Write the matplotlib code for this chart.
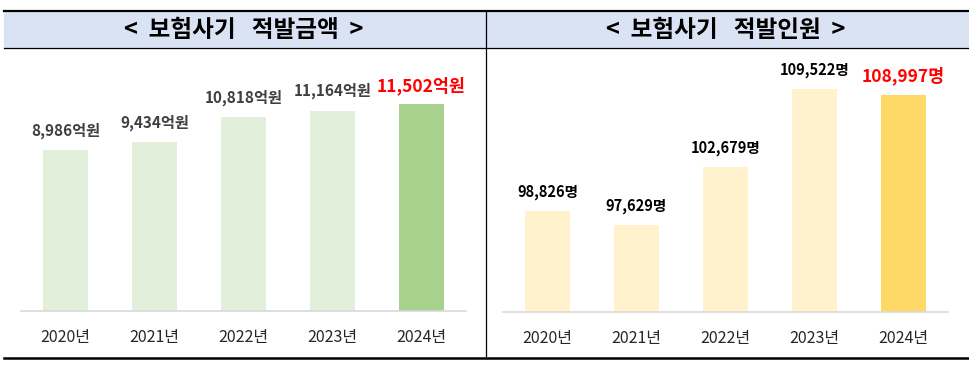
import matplotlib
matplotlib.use("Agg")
import matplotlib.pyplot as plt
from matplotlib.lines import Line2D
from matplotlib.patches import Rectangle

plt.rcParams['font.family'] = ['Noto Sans CJK KR', 'DejaVu Sans']

years = ["2020년", "2021년", "2022년", "2023년", "2024년"]
amount = [8986, 9434, 10818, 11164, 11502]      # 억원
people = [98826, 97629, 102679, 109522, 108997]  # 명

W, H = 970, 367
fig = plt.figure(figsize=(W / 100, H / 100), dpi=100)


def px(x0, y0, x1, y1):
    # pixel box (top-left origin) -> figure fraction rect
    return [x0 / W, 1 - y1 / H, (x1 - x0) / W, (y1 - y0) / H]


# header band and frame lines
fig.patches.append(Rectangle((4 / W, 1 - 48 / H), (W - 4) / W, 36 / H,
                             transform=fig.transFigure, color="#dae3f3", zorder=0))
fig.lines.append(Line2D([4 / W, 1], [1 - 11 / H] * 2, transform=fig.transFigure, color="black", lw=1.6))
fig.lines.append(Line2D([4 / W, 1], [1 - 48 / H] * 2, transform=fig.transFigure, color="black", lw=0.9))
fig.lines.append(Line2D([4 / W, 1], [1 - 358 / H] * 2, transform=fig.transFigure, color="black", lw=1.8))
fig.lines.append(Line2D([486 / W] * 2, [1 - 11 / H, 1 - 356 / H], transform=fig.transFigure, color="black", lw=0.9))

fig.text(244 / W, 1 - 30 / H, "<  보험사기   적발금액  >", ha="center", va="center",
         fontsize=17, fontweight="bold", color="black")
fig.text(726 / W, 1 - 30 / H, "<  보험사기   적발인원  >", ha="center", va="center",
         fontsize=17, fontweight="bold", color="black")


def draw(ax, vals, base_col, hi_col, lab_col, unit, ylim, fs):
    cols = [base_col] * (len(vals) - 1) + [hi_col]
    x = range(len(vals))
    ax.bar(x, vals, width=0.5, color=cols, zorder=2)
    ax.set_xlim(-0.5, len(vals) - 0.5)
    ax.set_ylim(*ylim)
    for s in ["top", "right", "left"]:
        ax.spines[s].set_visible(False)
    ax.spines["bottom"].set_color("#d9d9d9")
    ax.spines["bottom"].set_linewidth(1.2)
    ax.set_yticks([])
    ax.set_xticks(list(x))
    ax.set_xticklabels(years, fontsize=11.5, color="#262626")
    ax.tick_params(axis="x", length=0, pad=13)
    for i, v in enumerate(vals):
        last = i == len(vals) - 1
        ax.annotate(f"{v:,}{unit}", xy=(i, v), xytext=(0, 7 if last else 8),
                    textcoords="offset points", ha="center", va="bottom",
                    fontsize=12.5 if last else fs, fontweight="bold",
                    color="#ff0000" if last else lab_col)


axL = fig.add_axes(px(21, 60, 466, 311))
draw(axL, amount, "#e2efda", "#a9d18e", "#404040", "억원", (0, 13980), 11)

axR = fig.add_axes(px(503, 60, 948, 312))
draw(axR, people, "#fff2cc", "#ffd966", "#000000", "명", (90000, 112040), 10.5)

fig.savefig("out.png", dpi=100)
